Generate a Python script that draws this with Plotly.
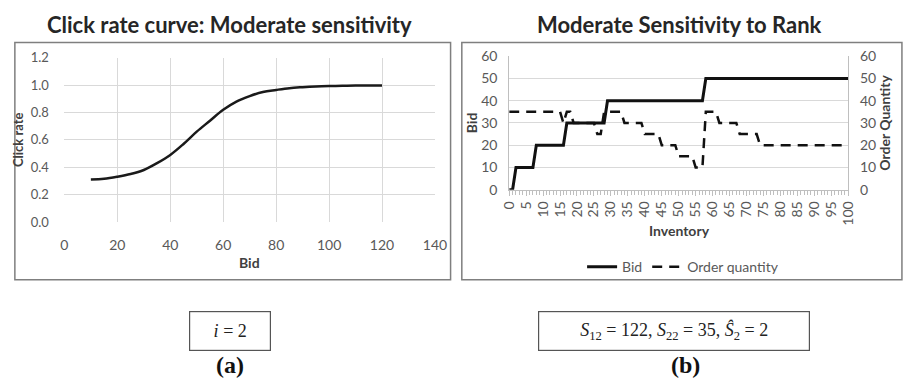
import plotly.graph_objects as go

# ---- data: left chart (click rate curve) ----
bid_values = [10, 15, 20, 25, 30, 35, 40, 45, 50, 55, 60, 65, 70, 75, 80, 85, 90, 95, 100, 105, 110, 115, 120]
click_rate = [0.31, 0.315, 0.33, 0.35, 0.38, 0.43, 0.49, 0.57, 0.66, 0.74, 0.82, 0.88, 0.92, 0.95,
              0.965, 0.978, 0.985, 0.99, 0.993, 0.995, 0.997, 0.998, 0.998]

# ---- data: right chart (bid & order quantity vs inventory) ----
inventory = list(range(0, 101))
bid_by_inventory = ([0] * 2 + [10] * 6 + [20] * 9 + [30] * 12 + [40] * 29 + [50] * 43)
order_quantity = ([35] * 16 + [30] * 1 + [35] * 2 + [30] * 7 + [25] * 2 + [35] * 6 + [30] * 6 +
                  [25] * 5 + [20] * 5 + [15] * 5 + [10] * 3 + [35] * 4 + [30] * 6 + [25] * 6 + [20] * 27)

W, H = 911, 389
def px(x): return x / W
def py(y): return 1 - y / H

FONT = "Lato"
TICK = dict(family=FONT, size=14, color="#595959")
GRID = "#d9d9d9"
AX = dict(family=FONT, size=14, color="#404040")

fig = go.Figure()

fig.add_trace(go.Scatter(x=bid_values, y=click_rate, mode="lines", line=dict(color="#1a1a1a", width=2.5, shape="spline"),
                         xaxis="x", yaxis="y", showlegend=False))
fig.add_trace(go.Scatter(x=inventory, y=bid_by_inventory, mode="lines", name="Bid",
                         line=dict(color="#111111", width=3), xaxis="x2", yaxis="y2"))
fig.add_trace(go.Scatter(x=inventory, y=order_quantity, mode="lines", name="Order quantity",
                         line=dict(color="#111111", width=2.5, dash="10px,7px"), xaxis="x2", yaxis="y3"))

fig.update_layout(
    width=W, height=H, margin=dict(l=0, r=0, t=0, b=0),
    paper_bgcolor="white", plot_bgcolor="white",
    xaxis=dict(domain=[px(56.7), px(436)], range=[0, 140], dtick=20, showgrid=True, gridcolor=GRID,
               zeroline=False, showline=False, ticks="outside", ticklen=10, tickcolor="rgba(0,0,0,0)",
               tickfont=TICK, anchor="y"),
    yaxis=dict(domain=[py(222.7), py(51)], range=[0, 1.2], dtick=0.2, tickformat=".1f", showgrid=True,
               gridcolor=GRID, zeroline=False, showline=False, ticks="outside", ticklen=12,
               tickcolor="rgba(0,0,0,0)", tickfont=dict(family=FONT, size=13, color="#595959"), anchor="x",
               title=dict(text="<b>Click rate</b>", font=dict(family=FONT, size=13, color="#404040"), standoff=4)),
    xaxis2=dict(domain=[px(512), px(859)], range=[0, 100], dtick=5, tickangle=-90, showgrid=False,
                zeroline=False, showline=True, linecolor="#bfbfbf", linewidth=1,
                ticks="outside", ticklen=5, tickcolor="#bfbfbf",
                minor=dict(dtick=1, ticks="outside", ticklen=4, tickcolor="#bfbfbf"),
                tickfont=TICK, anchor="y2"),
    yaxis2=dict(domain=[py(189), py(49.3)], range=[0, 60], dtick=10, showgrid=True, gridcolor=GRID,
                zeroline=False, showline=True, linecolor="#bfbfbf", ticks="outside", ticklen=8,
                tickcolor="rgba(0,0,0,0)", tickfont=TICK, anchor="x2",
                title=dict(text="<b>Bid</b>", font=AX, standoff=0)),
    yaxis3=dict(range=[0, 60], dtick=10, overlaying="y2", side="right", showgrid=False, zeroline=False,
                showline=True, linecolor="#bfbfbf", ticks="outside", ticklen=8,
                tickcolor="rgba(0,0,0,0)", tickfont=TICK, anchor="x2",
                title=dict(text="<b>Order Quantity</b>", font=AX, standoff=2)),
    legend=dict(orientation="h", x=px(690), xanchor="center", y=py(270), yanchor="middle",
                font=dict(family=FONT, size=14, color="#595959"), bgcolor="rgba(0,0,0,0)"),
)

shapes = [
    dict(type="rect", xref="paper", yref="paper", x0=px(6), x1=px(452), y0=py(283), y1=py(35),
         line=dict(color="#7f7f7f", width=1.5)),
    dict(type="rect", xref="paper", yref="paper", x0=px(463.5), x1=px(914), y0=py(283), y1=py(35),
         line=dict(color="#7f7f7f", width=1.5)),
]
fig.update_layout(shapes=shapes)

TITLE = dict(family=FONT, size=22, color="#262626")
SERIF = "Liberation Serif"
ann = [
    dict(text="<b>Click rate curve: Moderate sensitivity</b>", x=px(226), y=py(16), font=TITLE),
    dict(text="<b>Moderate Sensitivity to Rank</b>", x=px(686), y=py(16), font=TITLE),
    dict(text="<b>Bid</b>", x=px(246), y=py(265), font=AX),
    dict(text="<b>Inventory</b>", x=px(686), y=py(232), font=AX),
    dict(text="<i>i</i> = 2", x=px(226.5), y=py(337), font=dict(family=SERIF, size=18, color="#222"),
         bordercolor="#555", borderwidth=1.2, borderpad=9, width=62),
    dict(text="<i>S</i><sub>12</sub> = 122, <i>S</i><sub>22</sub> = 35, <i>Ŝ</i><sub>2</sub> = 2",
         x=px(681), y=py(337), font=dict(family=SERIF, size=18, color="#222"),
         bordercolor="#555", borderwidth=1.2, borderpad=7, width=256),
    dict(text="<b>(a)</b>", x=px(226), y=py(372), font=dict(family=SERIF, size=24, color="#111")),
    dict(text="<b>(b)</b>", x=px(692), y=py(372), font=dict(family=SERIF, size=24, color="#111")),
]
for a in ann:
    a.update(xref="paper", yref="paper", showarrow=False, xanchor="center", yanchor="middle")
fig.update_layout(annotations=ann)

fig.write_html("out.html")
